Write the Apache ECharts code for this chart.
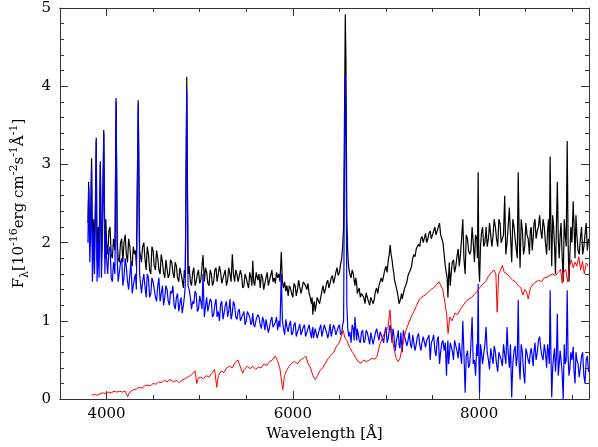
<!DOCTYPE html>
<html>
<head>
<meta charset="utf-8">
<script src="https://cdn.jsdelivr.net/npm/echarts@6/dist/echarts.min.js"></script>
<style>html,body{margin:0;padding:0;background:#fff}#c{width:598px;height:447px}</style>
</head>
<body>
<div id="c"></div>
<script>
// Main wavelength grid (Å) for the total (black) and blue spectra
var waveTB = [
3800,3808,3820,3830,3839,3848,3860,3870,3880,3889,3898,3910,3920,3933,3945,3955,3970,3982,3992,4000,
4025,4050,4075,4090,4102,4115,4125,4150,4175,4200,4225,4250,4275,4300,4320,4340,4355,4375,4400,4425,
4450,4475,4500,4525,4550,4575,4600,4625,4650,4675,4700,4725,4750,4775,4800,4825,4845,4861,4875,4900,
4925,4950,4975,5000,5025,5035,5050,5075,5100,5125,5150,5175,5200,5225,5250,5275,5300,5325,5350,5375,
5400,5425,5450,5475,5500,5525,5550,5570,5590,5625,5650,5675,5700,5725,5750,5775,5800,5825,5850,5876,
5900,5925,5950,5975,6000,6025,6050,6075,6100,6125,6150,6175,6200,6215,6230,6250,6275,6300,6325,6350,
6375,6400,6425,6450,6475,6500,6525,6545,6556,6563,6570,6580,
6600,6625,6650,6667,6685,6700,6725,6750,6775,6800,6825,6850,6875,6900,6925,6950,6975,7000,7025,7045,
7065,7085,7100,7125,7140,7160,7175,7200,7225,7250,7275,7300,7325,7350,7375,7400,7425,7450,7475,7500,
7525,7550,7575,7600,7625,7650,7665,7680,7700,7725,7750,7775,
7800,7825,7850,7875,7900,7925,7950,7975,7990,8005,8025,8050,8075,8100,8125,8150,8175,8200,8225,8250,
8275,8300,8325,8350,8375,8400,8420,8440,8465,8490,8515,8540,8560,8580,8600,8625,8650,8675,8700,8725,
8745,8763,8780,8800,8820,8840,8860,8880,8903,8925,8946,8965,8985,9010,9030,9050,9075,9100,9125,9150,9175
];
// Total flux (black), 1e-16 erg cm^-2 s^-1 Å^-1
var fluxTotal = [
2.25,2.78,2.05,2.4,3.08,1.95,2.3,1.9,2.5,3.34,1.75,2.2,1.9,3.04,1.8,2.2,3.44,1.8,2.3,2.0,
2.15,1.85,2.05,1.9,3.85,2.0,1.8,2.0,1.75,2.1,1.75,1.95,1.7,1.85,1.7,3.82,1.9,1.75,2.0,1.65,
1.85,1.6,1.9,1.65,1.8,1.6,1.75,1.55,1.8,1.6,1.75,1.55,1.7,1.5,1.6,1.42,1.55,4.12,1.6,1.5,
1.62,1.45,1.6,1.48,1.7,1.84,1.5,1.62,1.45,1.6,1.5,1.68,1.52,1.62,1.5,1.65,1.52,1.6,1.85,1.5,
1.6,1.48,1.58,1.45,1.55,1.42,1.55,1.77,1.45,1.52,1.42,1.55,1.48,1.62,1.52,1.65,1.55,1.62,1.6,1.88,
1.42,1.38,1.32,1.42,1.3,1.45,1.4,1.5,1.42,1.52,1.4,1.35,1.22,1.08,1.25,1.2,1.32,1.3,1.45,1.4,
1.52,1.48,1.58,1.55,1.68,1.62,1.8,2.2,3.8,4.92,4.35,2.3,
1.68,1.55,1.6,1.45,1.48,1.38,1.3,1.35,1.22,1.3,1.2,1.32,1.28,1.42,1.45,1.55,1.58,1.7,1.78,1.97,
1.78,1.6,1.5,1.35,1.22,1.3,1.28,1.42,1.5,1.62,1.7,1.85,1.92,1.98,2.05,2.0,2.12,2.05,2.15,2.1,
2.2,2.15,2.25,2.05,1.85,1.6,1.3,1.75,1.6,1.78,1.7,1.92,
1.85,2.3,1.6,2.05,1.85,2.2,1.75,2.05,2.9,1.5,2.12,1.95,2.2,2.05,2.25,2.1,2.2,1.95,2.25,2.0,
2.6,2.0,2.45,1.75,2.2,1.9,2.9,1.68,2.15,1.95,2.1,1.85,2.2,2.05,2.3,2.15,2.35,2.05,2.2,1.85,
2.3,3.1,1.7,2.2,1.6,2.78,1.8,2.25,1.5,2.1,3.3,1.5,2.2,2.53,1.8,2.1,1.85,2.2,1.95,2.25,2.05
];
// Blue component on the main grid
var fluxBlue = [
2.0,2.7,1.75,2.2,2.95,1.5,2.15,1.6,2.3,3.3,1.5,2.0,1.55,3.0,1.55,2.0,3.4,1.6,2.1,1.8,
1.9,1.55,1.75,1.6,3.8,1.75,1.5,1.75,1.45,1.8,1.5,1.6,1.35,1.55,1.4,3.78,1.6,1.35,1.6,1.3,
1.55,1.35,1.5,1.3,1.45,1.25,1.45,1.3,1.4,1.2,1.35,1.2,1.3,1.12,1.3,1.2,1.45,3.95,1.45,1.3,
1.25,1.38,1.12,1.32,1.15,1.6,1.05,1.3,1.1,1.25,1.08,1.28,1.12,1.22,1.02,1.2,1.05,1.28,1.1,1.2,
1.02,1.15,0.98,1.12,1.0,1.1,0.95,1.1,0.92,1.08,0.95,1.05,0.88,1.02,0.92,1.05,0.9,1.05,1.0,1.6,
0.9,1.02,0.86,1.0,0.85,0.98,0.86,0.96,0.82,0.95,0.85,0.95,0.78,0.92,0.8,0.92,0.8,0.95,0.82,0.9,
0.78,0.96,0.82,0.9,0.8,0.95,0.85,1.0,3.2,4.15,3.5,1.2,
0.8,0.72,0.9,1.05,0.75,0.85,0.72,0.88,0.75,0.85,0.7,0.86,0.78,0.9,0.75,0.88,0.72,0.92,0.78,0.95,
0.72,0.82,0.62,0.82,0.7,0.85,0.6,0.8,0.68,0.85,0.65,0.8,0.7,0.84,0.62,0.8,0.66,0.78,0.5,0.76,
0.62,0.75,0.45,0.72,0.62,0.3,0.75,0.55,0.7,0.5,0.68,0.52,
0.58,1.0,0.08,0.62,0.45,1.05,0.5,0.7,1.47,0.08,0.6,0.45,0.92,0.5,0.65,0.45,0.6,0.35,0.62,0.42,
0.7,0.92,0.4,0.02,0.62,0.42,1.27,0.25,0.6,0.2,0.58,0.45,0.65,0.42,0.72,0.6,0.8,0.55,0.7,0.4,
0.6,1.39,0.02,0.55,0.35,1.09,0.45,0.6,0.0,0.45,1.39,0.3,0.6,0.67,0.2,0.5,0.28,0.55,0.3,0.5,0.35
];
// Extra in-between samples (Å) of the noisy continuum
var waveMid = [
4012,4037,4062,4137,4162,4187,4212,4237,4262,4287,
4310,4387,4412,4437,4462,4487,4512,4537,4562,4587,
4612,4637,4662,4687,4712,4737,4762,4787,4812,4835,
4887,4912,4937,4962,4987,5012,5062,5087,5112,5137,
5162,5187,5212,5237,5262,5287,5312,5337,5362,5387,
5412,5437,5462,5487,5512,5537,5560,5580,5607,5637,
5662,5687,5712,5737,5762,5787,5812,5837,5862,5888,
5912,5937,5962,5987,6012,6037,6062,6087,6112,6137,
6162,6187,6207,6222,6240,6262,6287,6312,6337,6362,
6387,6412,6437,6462,6487,6512,6535,6590,6612,6637,
6658,6676,6692,6712,6737,6762,6787,6812,6837,6862,
6887,6912,6937,6962,6987,7012,7035,7055,7075,7092,
7112,7132,7150,7167,7187,7212,7237,7262,7287,7312,
7337,7362,7387,7412,7437,7462,7487,7512,7537,7562,
7587,7612,7637,7657,7672,7690,7712,7737,7762,7787,
7812,7837,7862,7887,7912,7937,7962,7982,7997,8015,
8037,8062,8087,8112,8137,8162,8187,8212,8237,8262,
8287,8312,8337,8362,8387,8410,8430,8452,8477,8502,
8527,8550,8570,8590,8612,8637,8662,8687,8712,8735,
8754,8771,8790,8810,8830,8850,8870,8891,8914,8935,
8955,8975,8997,9020,9040,9062,9087,9112,9137,9162
];
var fluxTotalMid = [
1.85,2.2,1.8,1.75,2.05,2.0,1.85,2.05,1.75,1.95,
1.9,1.95,1.8,1.95,1.65,1.95,1.7,1.9,1.65,1.85,
1.62,1.78,1.55,1.78,1.62,1.75,1.55,1.68,1.52,1.65,
1.7,1.45,1.68,1.5,1.65,1.52,1.68,1.48,1.65,1.45,
1.65,1.5,1.7,1.48,1.6,1.45,1.68,1.5,1.6,1.65,
1.5,1.65,1.42,1.6,1.48,1.62,1.45,1.5,1.62,1.6,
1.6,1.4,1.55,1.45,1.58,1.5,1.48,1.55,1.5,1.5,
1.5,1.45,1.45,1.35,1.48,1.32,1.52,1.35,1.5,1.45,
1.48,1.3,1.3,1.2,1.12,1.3,1.22,1.38,1.35,1.48,
1.42,1.55,1.48,1.62,1.58,1.72,1.95,1.85,1.6,1.65,
1.52,1.55,1.35,1.42,1.35,1.3,1.36,1.25,1.3,1.22,
1.38,1.35,1.5,1.5,1.65,1.62,1.85,1.85,1.68,1.52,
1.42,1.3,1.25,1.35,1.35,1.45,1.58,1.65,1.8,1.82,
1.95,1.95,2.08,2.0,2.0,2.12,2.05,2.12,2.1,2.2,
2.1,2.0,1.7,1.55,1.55,1.45,1.75,1.62,1.82,1.7,
2.05,1.8,2.1,1.9,1.9,2.0,2.1,1.8,1.7,1.95,
2.2,2.0,1.95,2.25,1.95,2.3,2.05,2.3,2.0,2.1,
1.85,2.2,2.1,2.3,2.05,1.8,2.1,2.3,1.85,2.25,
2.05,2.15,1.9,2.25,2.05,2.2,2.15,2.3,2.0,2.15,
1.9,2.2,2.35,1.95,2.2,2.05,2.1,1.85,2.3,1.95,
2.05,1.85,2.0,2.2,2.35,1.9,2.05,1.85,2.1,1.9
];
var fluxBlueMid = [
1.6,1.95,1.5,1.5,1.8,1.55,1.7,1.4,1.75,1.45,
1.6,1.5,1.45,1.6,1.3,1.55,1.5,1.25,1.55,1.35,
1.2,1.45,1.25,1.38,1.45,1.15,1.35,1.22,1.1,1.3,
1.4,1.15,1.22,1.35,1.15,1.25,1.18,1.12,1.28,1.05,
1.2,1.05,1.0,1.25,1.1,1.25,1.12,1.02,1.25,1.05,
1.12,1.0,1.08,0.95,1.12,1.05,0.98,0.95,1.02,1.05,
0.9,1.0,1.02,0.85,1.0,0.92,0.98,0.88,0.92,1.0,
0.82,0.92,0.95,0.82,0.95,0.8,0.9,0.82,0.92,0.8,
0.9,0.85,0.88,0.78,0.9,0.78,0.9,0.8,0.95,0.85,
0.85,0.8,0.95,0.82,0.92,0.82,0.95,0.9,0.86,0.95,
0.75,0.9,0.9,0.75,0.85,0.72,0.88,0.78,0.85,0.7,
0.85,0.82,0.86,0.78,0.85,0.72,0.88,0.85,0.9,0.7,
0.75,0.88,0.65,0.72,0.88,0.82,0.75,0.7,0.82,0.62,
0.8,0.7,0.72,0.82,0.75,0.82,0.72,0.82,0.55,0.8,
0.6,0.75,0.72,0.6,0.45,0.72,0.62,0.75,0.62,0.72,
0.45,0.6,0.55,0.4,0.7,0.45,0.3,0.55,0.6,0.7,
0.45,0.7,0.6,0.38,0.55,0.68,0.45,0.6,0.5,0.7,
0.45,0.6,0.7,0.45,0.68,0.55,0.45,0.7,0.35,0.65,
0.5,0.6,0.55,0.62,0.5,0.75,0.65,0.5,0.6,0.7,
0.45,0.6,0.4,0.65,0.55,0.3,0.62,0.35,0.7,0.5,
0.55,0.4,0.5,0.35,0.6,0.45,0.4,0.6,0.2,0.55
];
// Red component (own wavelength grid)
var waveRed = [
3840,3870,3900,3930,3960,3990,4020,4050,4080,4110,4140,4170,4200,4215,4226,4240,4260,4290,4320,4350,
4380,4410,4440,4470,4500,4530,4560,4590,4620,4650,4680,4700,4720,4750,4780,4810,4840,4870,4900,4930,
4950,4968,4985,5010,5040,5070,5100,5130,5160,5183,5200,5230,5260,5290,5320,5350,5380,5410,5430,5462,
5480,5510,5540,5570,5600,5630,5660,5690,5720,5750,5780,5810,5835,5860,5892,5910,5930,5960,5990,6020,
6050,6080,6110,6140,6165,6190,6215,6240,6265,6290,6320,6350,6380,6410,6440,6470,6500,6520,6540,6560,
6580,6610,6640,6670,6700,6730,6760,6790,6820,6850,6880,6905,6930,6960,6990,7020,7043,7060,7085,7110,
7130,7150,7180,7210,7240,7270,7300,7330,7360,7390,7420,7450,7480,7510,7540,7570,7590,7610,7630,7650,
7667,7685,7710,7740,7770,7800,7830,7860,7890,7920,7950,7980,8010,8040,8070,8100,8130,8160,8180,8194,
8210,8230,8250,8270,8300,8330,8360,8390,8420,8450,8470,8490,8510,8527,8550,8580,8610,8640,8670,8700,
8730,8760,8790,8820,8850,8875,8892,8910,8930,8950,8970,8990,9010,9030,9050,9070,9090,9110,9130,9150,9175
];
var fluxRed = [
0.05,0.06,0.05,0.07,0.08,0.07,0.09,0.08,0.1,0.09,0.1,0.09,0.1,0.08,0.03,0.07,0.1,0.12,0.13,0.15,
0.14,0.17,0.18,0.17,0.2,0.19,0.22,0.21,0.24,0.22,0.25,0.27,0.22,0.24,0.21,0.24,0.26,0.28,0.3,0.33,
0.36,0.2,0.27,0.28,0.26,0.3,0.28,0.33,0.38,0.15,0.3,0.36,0.34,0.4,0.42,0.4,0.47,0.5,0.52,0.33,
0.38,0.42,0.39,0.42,0.38,0.41,0.4,0.45,0.43,0.48,0.5,0.55,0.49,0.4,0.12,0.3,0.36,0.42,0.46,0.48,
0.45,0.5,0.52,0.55,0.45,0.4,0.3,0.25,0.3,0.36,0.4,0.46,0.52,0.56,0.6,0.68,0.72,0.8,0.88,0.78,
0.75,0.66,0.6,0.54,0.48,0.46,0.5,0.48,0.5,0.52,0.51,0.55,0.68,0.78,0.86,0.9,1.14,0.85,0.65,0.52,
0.48,0.52,0.7,0.86,0.96,1.05,1.12,1.2,1.28,1.31,1.33,1.36,1.4,1.42,1.46,1.5,1.52,1.4,1.25,1.1,
0.84,1.05,1.0,1.1,1.08,1.15,1.2,1.25,1.28,1.3,1.34,1.38,1.43,1.47,1.5,1.57,1.62,1.65,1.6,1.11,
1.6,1.65,1.71,1.62,1.6,1.56,1.52,1.5,1.45,1.42,1.33,1.4,1.37,1.28,1.42,1.47,1.5,1.52,1.5,1.55,
1.56,1.58,1.6,1.58,1.62,1.66,1.48,1.62,1.66,1.5,1.7,1.78,1.68,1.75,1.7,1.82,1.65,1.76,1.6,1.74,1.7
];
// Axis ticks
var xLabelTicks = [4000, 6000, 8000];
var xMinorTicks = [3500, 4500, 5000, 5500, 6500, 7000, 7500, 8500, 9000];
var xMin = 3500, xMax = 9180, yMin = 0, yMax = 5;

function merged(wA, fA, wB, fB) {
  var out = [];
  for (var i = 0; i < wA.length; i++) out.push([wA[i], fA[i]]);
  for (var j = 0; j < wB.length; j++) out.push([wB[j], fB[j]]);
  out.sort(function (a, b) { return a[0] - b[0]; });
  return out;
}
function pairs(w, f) { var out = []; for (var i = 0; i < w.length; i++) out.push([w[i], f[i]]); return out; }

var FONT = 'DejaVu Serif';
var axisColor = '#333';
function xAx(pos, major, labels) {
  return {
    type: 'value', position: pos, min: xMin, max: xMax,
    axisLine: { show: true, onZero: false, lineStyle: { color: axisColor, width: 1 } },
    axisTick: { show: true, inside: true, length: major ? 8 : 4, customValues: major ? xLabelTicks : xMinorTicks, lineStyle: { color: axisColor } },
    axisLabel: labels ? { show: true, customValues: xLabelTicks, formatter: function (v) { return String(v); }, fontFamily: FONT, fontSize: 15, color: '#000', margin: 8 } : { show: false },
    splitLine: { show: false },
    name: labels ? 'Wavelength [Å]' : '', nameLocation: 'middle', nameGap: 25,
    nameTextStyle: { fontFamily: FONT, fontSize: 15, color: '#000' }
  };
}
function yAx(pos, labels) {
  return {
    type: 'value', position: pos, min: yMin, max: yMax, interval: 1,
    axisLine: { show: true, onZero: false, lineStyle: { color: axisColor, width: 1 } },
    axisTick: { show: true, inside: true, length: 8, lineStyle: { color: axisColor } },
    minorTick: { show: true, splitNumber: 5, length: 4, lineStyle: { color: axisColor } },
    axisLabel: labels ? { show: true, fontFamily: FONT, fontSize: 15, color: '#000', margin: 9 } : { show: false },
    splitLine: { show: false }, minorSplitLine: { show: false },
    name: labels ? '{a|F}{sub|λ}{a|[10}{sup|-16}{a|erg cm}{sup|-2}{a|s}{sup|-1}{a|Å}{sup|-1}{a|]}' : '',
    nameLocation: 'middle', nameGap: 28, nameRotate: 90,
    nameTextStyle: {
      fontFamily: FONT, fontSize: 15, color: '#000',
      rich: {
        a: { fontFamily: FONT, fontSize: 15, lineHeight: 22, color: '#000' },
        sup: { fontFamily: FONT, fontSize: 11, lineHeight: 22, verticalAlign: 'top', color: '#000' },
        sub: { fontFamily: FONT, fontSize: 11, lineHeight: 22, verticalAlign: 'bottom', color: '#000' }
      }
    }
  };
}

var chart = echarts.init(document.getElementById('c'), null, { renderer: 'canvas' });
chart.setOption({
  animation: false,
  backgroundColor: '#fff',
  grid: { left: 60, right: 9, top: 8, bottom: 44, containLabel: false },
  xAxis: [xAx('bottom', true, true), xAx('bottom', false, false), xAx('top', true, false), xAx('top', false, false)],
  yAxis: [yAx('left', true), yAx('right', false)],
  series: [
    { type: 'line', name: 'total', data: merged(waveTB, fluxTotal, waveMid, fluxTotalMid), showSymbol: false, lineStyle: { color: '#000', width: 1.2 }, itemStyle: { color: '#000' }, z: 2 },
    { type: 'line', name: 'blue', data: merged(waveTB, fluxBlue, waveMid, fluxBlueMid), showSymbol: false, lineStyle: { color: '#0000ff', width: 1.2 }, itemStyle: { color: '#0000ff' }, z: 3 },
    { type: 'line', name: 'red', data: pairs(waveRed, fluxRed), showSymbol: false, lineStyle: { color: '#ff0000', width: 1 }, itemStyle: { color: '#ff0000' }, z: 4 }
  ]
});
</script>
</body>
</html>
